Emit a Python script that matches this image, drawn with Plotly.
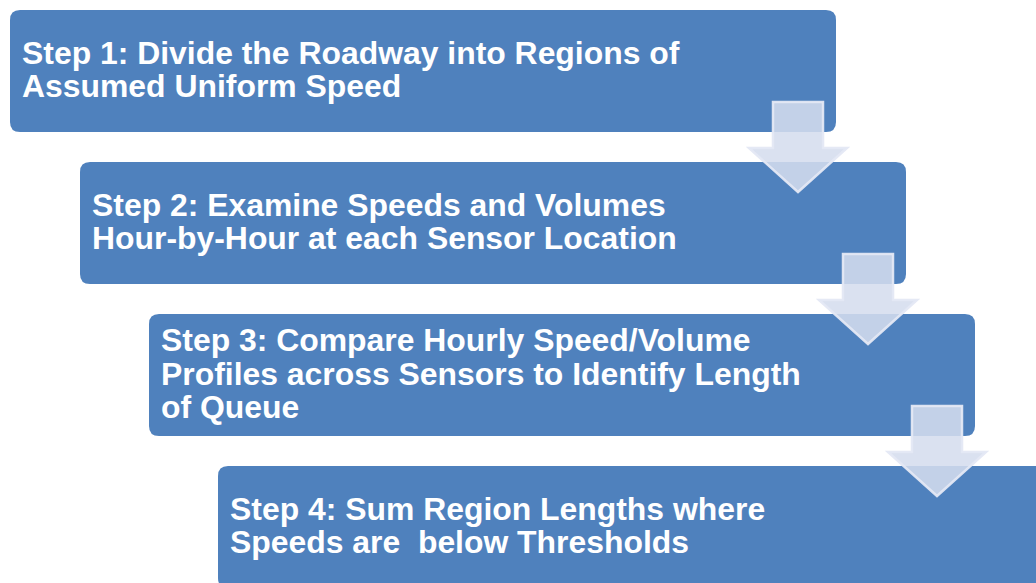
import plotly.graph_objects as go

# Data: step texts (one list of lines per step)
step_lines = [
    ["Step 1: Divide the Roadway into Regions of", "Assumed Uniform Speed"],
    ["Step 2: Examine Speeds and Volumes", "Hour-by-Hour at each Sensor Location"],
    ["Step 3: Compare Hourly Speed/Volume", "Profiles across Sensors to Identify Length", "of Queue"],
    ["Step 4: Sum Region Lengths where", "Speeds are  below Thresholds"],
]

W, H = 1036, 583
box_x0 = [10, 80, 149, 218]
box_y0 = [10, 162, 314, 466]
box_w, box_h, radius = 826, 122, 10
line_gap = 33.5

BOX_COLOR = "#4F81BD"


def rounded_rect(x0, y0, x1, y1, r):
    return (f"M{x0+r},{y0} L{x1-r},{y0} Q{x1},{y0} {x1},{y0+r} "
            f"L{x1},{y1-r} Q{x1},{y1} {x1-r},{y1} L{x0+r},{y1} "
            f"Q{x0},{y1} {x0},{y1-r} L{x0},{y0+r} Q{x0},{y0} {x0+r},{y0} Z")


fig = go.Figure()
shapes = []
annotations = []

for i, lines in enumerate(step_lines):
    x0, y0 = box_x0[i], box_y0[i]
    shapes.append(dict(type="path", path=rounded_rect(x0, y0, x0 + box_w, y0 + box_h, radius),
                       fillcolor=BOX_COLOR, line=dict(width=0), layer="below"))
    n = len(lines)
    cy = y0 + box_h / 2 - 1.5
    for j, t in enumerate(lines):
        yc = cy + (j - (n - 1) / 2) * line_gap
        annotations.append(dict(x=x0 + 10, y=yc, xref="x", yref="y", text=f"<b>{t}</b>",
                                showarrow=False, xanchor="left", yanchor="middle",
                                font=dict(family="Liberation Sans, Arial", size=31.9, color="white")))

# Arrows between boxes
for i in range(3):
    x0 = box_x0[i]
    y0 = box_y0[i]
    cx = x0 + 788
    top = y0 + 92
    head_y = top + 46
    tip = top + 90
    sw, hw = 25, 49
    path = (f"M{cx-sw},{top} L{cx+sw},{top} L{cx+sw},{head_y} L{cx+hw},{head_y} "
            f"L{cx},{tip} L{cx-hw},{head_y} L{cx-sw},{head_y} Z")
    shapes.append(dict(type="path", path=path, fillcolor="rgba(212,220,238,0.87)",
                       line=dict(color="rgba(228,232,244,0.95)", width=2.5), layer="above"))

fig.update_layout(
    width=W, height=H,
    margin=dict(l=0, r=0, t=0, b=0),
    paper_bgcolor="white", plot_bgcolor="white",
    xaxis=dict(range=[0, W], visible=False, fixedrange=True),
    yaxis=dict(range=[H, 0], visible=False, fixedrange=True),
    shapes=shapes, annotations=annotations, showlegend=False,
)

fig.write_html("out.html",
               config={"displayModeBar": False},
               post_script="document.body.style.margin='0';document.body.style.overflow='hidden';")
